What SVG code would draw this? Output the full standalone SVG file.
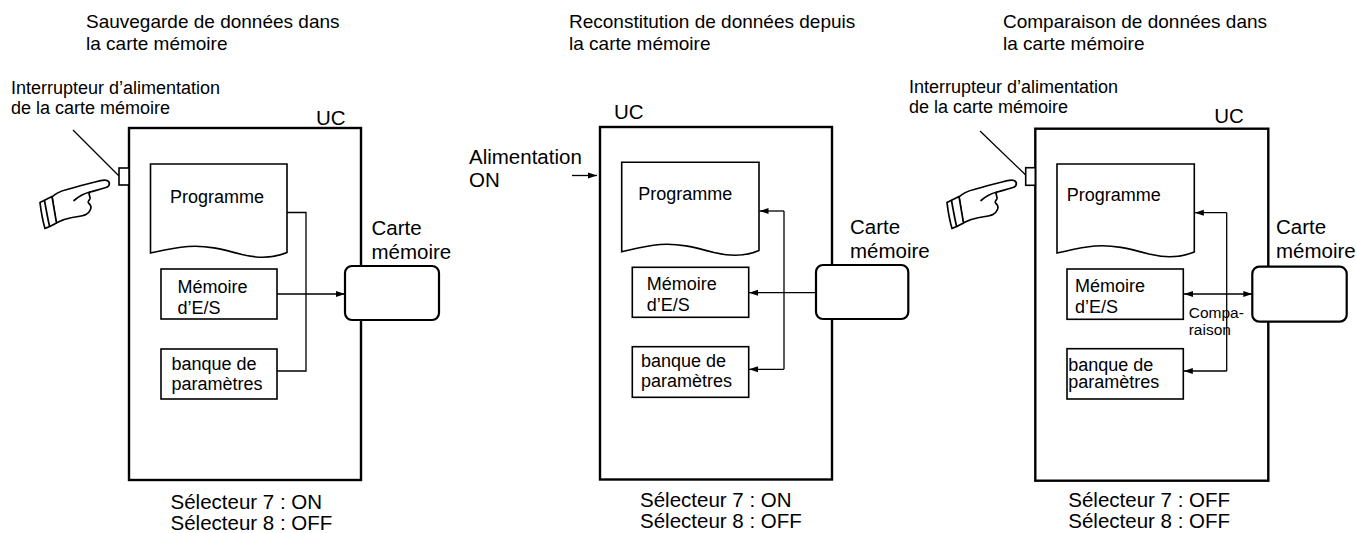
<svg xmlns="http://www.w3.org/2000/svg" width="1357" height="533" viewBox="0 0 1357 533">
  <style>
    text { font-family: "Liberation Sans", Arial, Helvetica, sans-serif; fill: #000; }
    .title { font-size: 19px; }
    .lbl { font-size: 18px; }
    .big { font-size: 20.5px; }
    .small { font-size: 15.5px; }
    .uc { fill: #fff; stroke: #000; stroke-width: 2.4; }
    .box { fill: #fff; stroke: #000; stroke-width: 1.6; }
    .card { fill: #fff; stroke: #000; stroke-width: 2.2; }
    .wire { fill: none; stroke: #000; stroke-width: 1.3; }
    .arr { fill: none; stroke: #000; stroke-width: 1.3; marker-end: url(#ah); }
    .hand { fill: #fff; stroke: #000; stroke-width: 1.7; stroke-linejoin: round; stroke-linecap: round; }
  </style>
  <defs>
    <marker id="ah" markerUnits="userSpaceOnUse" markerWidth="10" markerHeight="8" refX="9" refY="4" orient="auto">
      <path d="M0,1 L9,4 L0,7 Z" fill="#000"/>
    </marker>
    <marker id="ahs" markerUnits="userSpaceOnUse" markerWidth="10" markerHeight="8" refX="0" refY="4" orient="auto">
      <path d="M9,1 L0,4 L9,7 Z" fill="#000"/>
    </marker>
    <!-- pointing hand pressing the card power switch -->
    <g id="hand">
      <path class="hand" d="M52,197 C56,193 61,191 67,189.5 C76,187 86,184 95,182 C100,180.5 104,179.5 107,180.5 C110.5,182 110,186.5 106,187.5 C100,189.5 95,190.5 90,192 C87.5,193.5 90.5,196 90,198.5 C89.5,200.5 87,201.5 88.5,203 C91,205 91.5,207 90.5,209.5 C89.5,212 89,213 86,214.5 C82,216.5 77,216.5 72,217.5 C66,218.5 61,220.5 56,223 Z"/>
      <path class="hand" d="M90,192 C84,193.5 78.5,196.5 74,200.5"/>
      <path class="hand" d="M40,202.5 C44,200.5 48,198.5 52,196.5 C53.5,205 55,214 56.5,223 C53,225 49,227 45,228.5 C42.5,220 41,211 40,202.5 Z"/>
      <path class="hand" d="M44.5,200.5 C46,209 47.5,217.5 49.5,226"/>
    </g>
  </defs>

  <!-- titles -->
  <g id="titles">
    <text class="title" x="86" y="28">Sauvegarde de données dans</text>
    <text class="title" x="86" y="50">la carte mémoire</text>
    <text class="title" x="569" y="28">Reconstitution de données depuis</text>
    <text class="title" x="569" y="50">la carte mémoire</text>
    <text class="title" x="1003" y="28">Comparaison de données dans</text>
    <text class="title" x="1003" y="50">la carte mémoire</text>
  </g>

  <!-- ===== Panel 1 : save to card ===== -->
  <g id="cpu1">
    <rect class="uc" x="129" y="128" width="232" height="352"/>
    <text class="big" x="316" y="125">UC</text>
  </g>
  <g id="switch1">
    <text class="lbl" x="11" y="94">Interrupteur d’alimentation</text>
    <text class="lbl" x="11" y="114">de la carte mémoire</text>
    <line class="wire" x1="73" y1="130" x2="119" y2="176"/>
    <rect class="box" x="119" y="168" width="10" height="17"/>
    <use href="#hand"/>
  </g>
  <g id="program1">
    <path class="box" d="M150.5,164 H287 V252.5 C274,258 258,258.5 242,254.5 C222,249 205,245 188,246.5 C172,248 160,251 150.5,253 Z"/>
    <text class="lbl" x="170" y="203">Programme</text>
  </g>
  <g id="iomem1">
    <rect class="box" x="161" y="269" width="116" height="50"/>
    <text class="lbl" x="177.5" y="293">Mémoire</text>
    <text class="lbl" x="177.5" y="313.5">d’E/S</text>
  </g>
  <g id="params1">
    <rect class="box" x="161" y="349" width="116" height="50"/>
    <text class="lbl" x="171.5" y="370">banque de</text>
    <text class="lbl" x="171.5" y="389.5">paramètres</text>
  </g>
  <g id="links1">
    <polyline class="wire" points="287,212.5 306,212.5 306,371 277,371"/>
    <line class="arr" x1="277" y1="294" x2="345" y2="294"/>
  </g>
  <g id="card1">
    <rect class="card" x="345" y="266" width="94" height="54" rx="7"/>
    <text class="big" x="371.5" y="234.5">Carte</text>
    <text class="big" x="371.5" y="258.5">mémoire</text>
  </g>
  <g id="dip1">
    <text class="big" x="170.5" y="508.5">Sélecteur 7 : ON</text>
    <text class="big" x="170.5" y="529.5">Sélecteur 8 : OFF</text>
  </g>

  <!-- ===== Panel 2 : restore from card ===== -->
  <g id="cpu2">
    <rect class="uc" x="600" y="127" width="232" height="352.5"/>
    <text class="big" x="614" y="118.5">UC</text>
  </g>
  <g id="power2">
    <text class="big" x="469" y="163.5">Alimentation</text>
    <text class="big" x="469" y="187">ON</text>
    <line class="arr" x1="572" y1="175.5" x2="597" y2="175.5"/>
  </g>
  <g id="program2">
    <path class="box" d="M621.7,162.3 H759 V250.5 C746,256 730,256.5 714,252.5 C694,247 677,243 660,244.5 C644,246 632,249.5 621.7,251.7 Z"/>
    <text class="lbl" x="638.3" y="199.5">Programme</text>
  </g>
  <g id="iomem2">
    <rect class="box" x="632.3" y="267.3" width="116.4" height="50"/>
    <text class="lbl" x="646.7" y="290">Mémoire</text>
    <text class="lbl" x="646.7" y="310.7">d’E/S</text>
  </g>
  <g id="params2">
    <rect class="box" x="632.3" y="346.7" width="116.4" height="50.6"/>
    <text class="lbl" x="641" y="367.3">banque de</text>
    <text class="lbl" x="641" y="387.3">paramètres</text>
  </g>
  <g id="links2">
    <line class="arr" x1="816" y1="292.7" x2="749" y2="292.7"/>
    <line class="wire" x1="784" y1="211" x2="784" y2="369.3"/>
    <line class="arr" x1="784" y1="211" x2="759.5" y2="211"/>
    <line class="arr" x1="784" y1="369.3" x2="749" y2="369.3"/>
  </g>
  <g id="card2">
    <rect class="card" x="816" y="265" width="92.3" height="54" rx="7"/>
    <text class="big" x="850" y="234.3">Carte</text>
    <text class="big" x="850" y="258.3">mémoire</text>
  </g>
  <g id="dip2">
    <text class="big" x="640" y="506.7">Sélecteur 7 : ON</text>
    <text class="big" x="640" y="527.7">Sélecteur 8 : OFF</text>
  </g>

  <!-- ===== Panel 3 : compare with card ===== -->
  <g id="cpu3">
    <rect class="uc" x="1035.3" y="128.7" width="233" height="352"/>
    <text class="big" x="1214.3" y="122.7">UC</text>
  </g>
  <g id="switch3">
    <text class="lbl" x="909" y="92.7">Interrupteur d’alimentation</text>
    <text class="lbl" x="909" y="113.3">de la carte mémoire</text>
    <line class="wire" x1="980" y1="131" x2="1025.7" y2="175"/>
    <rect class="box" x="1025.7" y="167.7" width="9.6" height="17.6"/>
    <use href="#hand" transform="translate(907,0)"/>
  </g>
  <g id="program3">
    <path class="box" d="M1057,164 H1194.3 V252 C1181,257.5 1165,258 1149,254 C1129,248.5 1112,244.5 1095,246 C1079,247.5 1067,251 1057,253 Z"/>
    <text class="lbl" x="1066.7" y="201">Programme</text>
  </g>
  <g id="iomem3">
    <rect class="box" x="1067" y="269" width="116.3" height="50.3"/>
    <text class="lbl" x="1075" y="292.3">Mémoire</text>
    <text class="lbl" x="1075" y="312.7">d’E/S</text>
  </g>
  <g id="params3">
    <rect class="box" x="1067" y="348.7" width="116.3" height="50.3"/>
    <text class="lbl" x="1068.3" y="370.7">banque de</text>
    <text class="lbl" x="1068.3" y="388.3">paramètres</text>
  </g>
  <g id="links3">
    <line class="wire" x1="1226.7" y1="212.7" x2="1226.7" y2="371"/>
    <line class="arr" x1="1226.7" y1="212.7" x2="1194.8" y2="212.7"/>
    <line class="arr" x1="1226.7" y1="371" x2="1183.8" y2="371"/>
    <line class="arr" x1="1184" y1="294" x2="1252.3" y2="294" style="marker-start:url(#ahs)"/>
    <text class="small" x="1188.7" y="318.3">Compa-</text>
    <text class="small" x="1188.7" y="334.5">raison</text>
  </g>
  <g id="card3">
    <rect class="card" x="1252.3" y="266.7" width="94.4" height="55" rx="7"/>
    <text class="big" x="1276" y="234.3">Carte</text>
    <text class="big" x="1276" y="258.3">mémoire</text>
  </g>
  <g id="dip3">
    <text class="big" x="1068.3" y="507.3">Sélecteur 7 : OFF</text>
    <text class="big" x="1068.3" y="528.3">Sélecteur 8 : OFF</text>
  </g>
</svg>
